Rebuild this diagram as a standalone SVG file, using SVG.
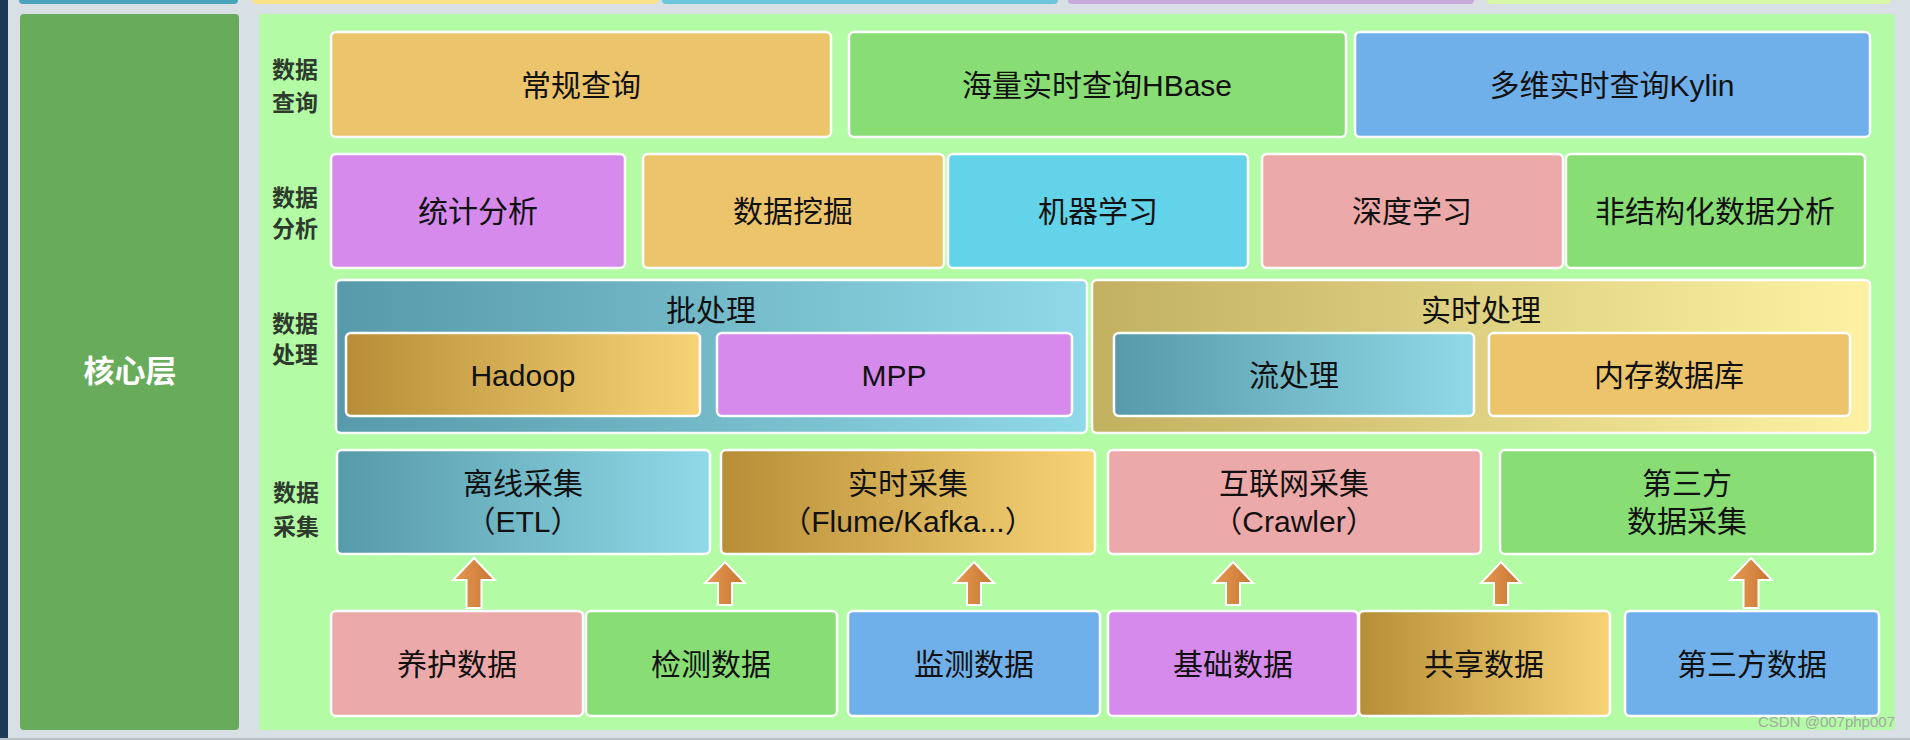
<svg xmlns="http://www.w3.org/2000/svg" width="1910" height="740" viewBox="0 0 1910 740">
  <defs>
    <linearGradient id="gTeal" x1="0" y1="0" x2="1" y2="0">
      <stop offset="0" stop-color="#579aa9"/>
      <stop offset="1" stop-color="#90d9e8"/>
    </linearGradient>
    <linearGradient id="gGold" x1="0" y1="0" x2="1" y2="0">
      <stop offset="0" stop-color="#b78e37"/>
      <stop offset="1" stop-color="#f7d376"/>
    </linearGradient>
    <linearGradient id="gOlive" x1="0" y1="0" x2="1" y2="0">
      <stop offset="0" stop-color="#c1b161"/>
      <stop offset="1" stop-color="#fdf2a3"/>
    </linearGradient>
    <linearGradient id="gArrow" x1="0" y1="0" x2="1" y2="0">
      <stop offset="0" stop-color="#e69a55"/>
      <stop offset="1" stop-color="#c8752f"/>
    </linearGradient>
  </defs>
  <style>
    .box { stroke: #ffffff; stroke-width: 2.5; }
    .t { font-family: "Liberation Sans", "Noto Sans CJK SC", sans-serif; font-size: 30px; fill: #111111; text-anchor: middle; }
    .side { font-family: "Liberation Sans", "Noto Sans CJK SC", sans-serif; font-size: 23px; font-weight: bold; fill: #2e3a2e; text-anchor: middle; }
    .arrow { fill: url(#gArrow); stroke: #ffffff; stroke-width: 2; stroke-linejoin: miter; }
    .sand { fill: #ebc46b; }
    .green { fill: #88dd75; }
    .blue { fill: #70b0ea; }
    .violet { fill: #d68bec; }
    .cyan { fill: #63d3ea; }
    .pink { fill: #eca9a9; }
    .teal { fill: url(#gTeal); }
    .gold { fill: url(#gGold); }
    .olive { fill: url(#gOlive); }
  </style>

  <!-- background -->
  <rect x="0" y="0" width="1910" height="740" fill="#d8dfe5"/>
  <rect x="0" y="0" width="8" height="740" fill="#1c3a55"/>
  <rect x="0" y="738" width="1910" height="2" fill="#b9c0c6"/>

  <!-- top strip (cut-off boxes) -->
  <g id="top-strip">
    <rect x="19" y="-8" width="219" height="12" rx="4" fill="#4aa3bd"/>
    <rect x="252" y="-8" width="406" height="12" rx="4" fill="#f7e18b"/>
    <rect x="662" y="-8" width="396" height="12" rx="4" fill="#6cc7dd"/>
    <rect x="1068" y="-8" width="406" height="12" rx="4" fill="#c9a9d9"/>
    <rect x="1487" y="-8" width="404" height="12" rx="4" fill="#d9f7a8"/>
  </g>

  <!-- core layer -->
  <g id="core">
    <rect x="20" y="14" width="219" height="716" rx="4" fill="#68ab5b"/>
    <text x="130" y="382" font-family="Liberation Sans, Noto Sans CJK SC, sans-serif" font-size="31" font-weight="bold" fill="#ffffff" text-anchor="middle">核心层</text>
  </g>

  <!-- panel -->
  <g id="panel">
    <rect x="259" y="14" width="1636" height="716" rx="3" fill="#b3fba4"/>
  </g>

  <!-- side labels -->
  <g id="label-query">
    <text class="side" x="295" y="78">数据</text>
    <text class="side" x="295" y="111">查询</text>
  </g>
  <g id="label-analysis">
    <text class="side" x="295" y="206">数据</text>
    <text class="side" x="295" y="237">分析</text>
  </g>
  <g id="label-process">
    <text class="side" x="295" y="332">数据</text>
    <text class="side" x="295" y="363">处理</text>
  </g>
  <g id="label-collect">
    <text class="side" x="296" y="501">数据</text>
    <text class="side" x="296" y="535">采集</text>
  </g>

  <!-- row 1: query -->
  <g id="q-normal">
    <rect class="box sand" x="331" y="32" width="500" height="105" rx="5"/>
    <text class="t" x="581" y="96">常规查询</text>
  </g>
  <g id="q-hbase">
    <rect class="box green" x="849" y="32" width="497" height="105" rx="5"/>
    <text class="t" x="1097" y="96">海量实时查询HBase</text>
  </g>
  <g id="q-kylin">
    <rect class="box blue" x="1355" y="32" width="515" height="105" rx="5"/>
    <text class="t" x="1612" y="96">多维实时查询Kylin</text>
  </g>

  <!-- row 2: analysis -->
  <g id="a-stat">
    <rect class="box violet" x="331" y="154" width="294" height="114" rx="5"/>
    <text class="t" x="478" y="222">统计分析</text>
  </g>
  <g id="a-mining">
    <rect class="box sand" x="643" y="154" width="301" height="114" rx="5"/>
    <text class="t" x="793" y="222">数据挖掘</text>
  </g>
  <g id="a-ml">
    <rect class="box cyan" x="948" y="154" width="300" height="114" rx="5"/>
    <text class="t" x="1098" y="222">机器学习</text>
  </g>
  <g id="a-dl">
    <rect class="box pink" x="1262" y="154" width="301" height="114" rx="5"/>
    <text class="t" x="1412" y="222">深度学习</text>
  </g>
  <g id="a-unstruct">
    <rect class="box green" x="1566" y="154" width="299" height="114" rx="5"/>
    <text class="t" x="1715" y="222">非结构化数据分析</text>
  </g>

  <!-- row 3: processing -->
  <g id="p-batch">
    <rect class="box teal" x="336" y="280" width="751" height="153" rx="5"/>
    <text class="t" x="711" y="321">批处理</text>
  </g>
  <g id="p-hadoop">
    <rect class="box gold" x="346" y="333" width="354" height="83" rx="5"/>
    <text class="t" x="523" y="386">Hadoop</text>
  </g>
  <g id="p-mpp">
    <rect class="box violet" x="717" y="333" width="355" height="83" rx="5"/>
    <text class="t" x="894" y="386">MPP</text>
  </g>
  <g id="p-realtime">
    <rect class="box olive" x="1092" y="280" width="778" height="153" rx="5"/>
    <text class="t" x="1481" y="321">实时处理</text>
  </g>
  <g id="p-stream">
    <rect class="box teal" x="1114" y="333" width="360" height="83" rx="5"/>
    <text class="t" x="1294" y="386">流处理</text>
  </g>
  <g id="p-memdb">
    <rect class="box sand" x="1489" y="333" width="361" height="83" rx="5"/>
    <text class="t" x="1669" y="386">内存数据库</text>
  </g>

  <!-- row 4: collection -->
  <g id="c-etl">
    <rect class="box teal" x="337" y="450" width="373" height="104" rx="5"/>
    <text class="t" x="523" y="494">离线采集</text>
    <text class="t" x="523" y="532">（ETL）</text>
  </g>
  <g id="c-realtime">
    <rect class="box gold" x="721" y="450" width="374" height="104" rx="5"/>
    <text class="t" x="908" y="494">实时采集</text>
    <text class="t" x="908" y="532">（Flume/Kafka...）</text>
  </g>
  <g id="c-crawler">
    <rect class="box pink" x="1108" y="450" width="373" height="104" rx="5"/>
    <text class="t" x="1294" y="494">互联网采集</text>
    <text class="t" x="1294" y="532">（Crawler）</text>
  </g>
  <g id="c-third">
    <rect class="box green" x="1500" y="450" width="375" height="104" rx="5"/>
    <text class="t" x="1687" y="494">第三方</text>
    <text class="t" x="1687" y="532">数据采集</text>
  </g>

  <!-- row 5: sources -->
  <g id="s-maint">
    <rect class="box pink" x="331" y="611" width="252" height="105" rx="5"/>
    <text class="t" x="457" y="675">养护数据</text>
  </g>
  <g id="s-inspect">
    <rect class="box green" x="586" y="611" width="251" height="105" rx="5"/>
    <text class="t" x="711" y="675">检测数据</text>
  </g>
  <g id="s-monitor">
    <rect class="box blue" x="848" y="611" width="252" height="105" rx="5"/>
    <text class="t" x="974" y="675">监测数据</text>
  </g>
  <g id="s-base">
    <rect class="box violet" x="1108" y="611" width="250" height="105" rx="5"/>
    <text class="t" x="1233" y="675">基础数据</text>
  </g>
  <g id="s-share">
    <rect class="box gold" x="1359" y="611" width="251" height="105" rx="5"/>
    <text class="t" x="1484" y="675">共享数据</text>
  </g>
  <g id="s-third">
    <rect class="box blue" x="1625" y="611" width="254" height="105" rx="5"/>
    <text class="t" x="1752" y="675">第三方数据</text>
  </g>

  <!-- connectors -->
  <g id="connectors">
    <path class="arrow" d="M474,558 L495,580 L481.5,580 L481.5,608 L466.5,608 L466.5,580 L453,580 Z"/>
    <path class="arrow" d="M725,562 L745,583 L732,583 L732,605 L718,605 L718,583 L705,583 Z"/>
    <path class="arrow" d="M974,562 L994,583 L981,583 L981,605 L967,605 L967,583 L954,583 Z"/>
    <path class="arrow" d="M1233,562 L1253,583 L1240,583 L1240,605 L1226,605 L1226,583 L1213,583 Z"/>
    <path class="arrow" d="M1501,562 L1521,583 L1508,583 L1508,605 L1494,605 L1494,583 L1481,583 Z"/>
    <path class="arrow" d="M1751,558 L1772,580 L1758.5,580 L1758.5,608 L1743.5,608 L1743.5,580 L1730,580 Z"/>
  </g>

  <!-- watermark -->
  <text x="1895" y="727" font-family="Liberation Sans, sans-serif" font-size="15" fill="#a3aaa3" text-anchor="end">CSDN @007php007</text>
</svg>
